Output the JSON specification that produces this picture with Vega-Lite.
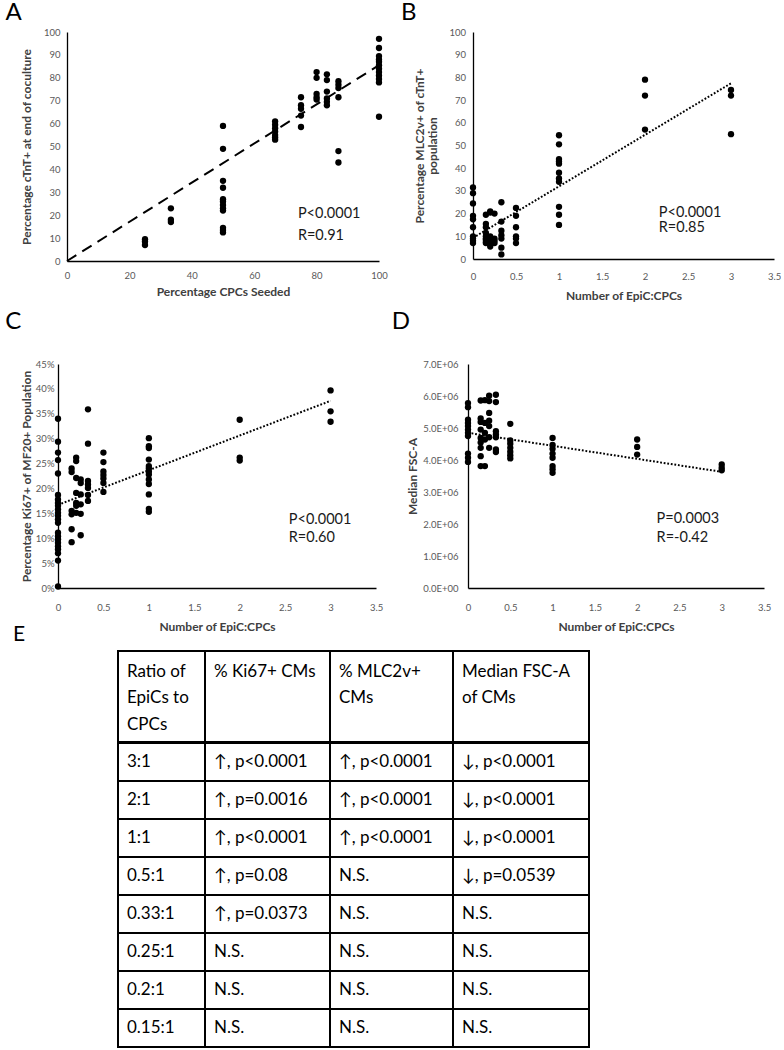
{
"$schema": "https://vega.github.io/schema/vega-lite/v6.json",
"padding": {"left": 0, "top": 1, "right": 0, "bottom": 0},
"config": {
  "font": "Lato",
  "view": {"stroke": null},
  "axis": {"domainColor": "black", "domainWidth": 1.3, "ticks": false, "tickSize": 0, "grid": false, "labelOverlap": false, "labelFlush": false, "labelColor": "#595959", "labelFontSize": 9.5, "labelFont": "Lato", "titleFont": "Lato", "titleFontSize": 12, "titleFontWeight": "bold", "titleColor": "#404040"},
  "title": {"fontSize": 24, "fontWeight": "normal", "anchor": "start", "frame": "bounds", "color": "black", "font": "Lato", "baseline": "alphabetic"}
},
"datasets": {
  "A": [
    {"x":25,"y":9.5},{"x":25,"y":8.5},{"x":25,"y":7},
    {"x":33.3,"y":23},{"x":33.3,"y":18},{"x":33.3,"y":17},
    {"x":50,"y":59},{"x":50,"y":49},{"x":50,"y":35},{"x":50,"y":32},{"x":50,"y":27},{"x":50,"y":26},{"x":50,"y":24.5},{"x":50,"y":23},{"x":50,"y":22},{"x":50,"y":14.5},{"x":50,"y":13.5},{"x":50,"y":12.5},
    {"x":66.7,"y":61},{"x":66.7,"y":59.5},{"x":66.7,"y":58},{"x":66.7,"y":56.5},{"x":66.7,"y":55},{"x":66.7,"y":54},{"x":66.7,"y":53},
    {"x":75,"y":71.5},{"x":75,"y":68},{"x":75,"y":66.5},{"x":75,"y":63.5},{"x":75,"y":58.5},
    {"x":80,"y":82.5},{"x":80,"y":80},{"x":80,"y":73},{"x":80,"y":71.5},{"x":80,"y":70.5},
    {"x":83.3,"y":81.5},{"x":83.3,"y":79},{"x":83.3,"y":74},{"x":83.3,"y":71},{"x":83.3,"y":69.5},{"x":83.3,"y":68},
    {"x":87,"y":78.5},{"x":87,"y":77},{"x":87,"y":75.5},{"x":87,"y":71.5},{"x":87,"y":48},{"x":87,"y":43},
    {"x":100,"y":97},{"x":100,"y":93},{"x":100,"y":89.5},{"x":100,"y":88},{"x":100,"y":87},{"x":100,"y":85.5},{"x":100,"y":84},{"x":100,"y":82.5},{"x":100,"y":81},{"x":100,"y":79.5},{"x":100,"y":78},{"x":100,"y":63}
  ],
  "A_fit": [{"x":0,"y":0},{"x":100,"y":85.5}],
  "A_note": [{"x":74,"y":18.7,"t":"P<0.0001"},{"x":74,"y":9.2,"t":"R=0.91"}],
  "B": [
    {"x":0,"y":31.5},{"x":0,"y":29},{"x":0,"y":24.5},{"x":0,"y":19},{"x":0,"y":17.5},{"x":0,"y":14},{"x":0,"y":10},{"x":0,"y":9},{"x":0,"y":8},{"x":0,"y":7},
    {"x":0.15,"y":19.5},{"x":0.15,"y":15.5},{"x":0.15,"y":14},{"x":0.15,"y":11.5},{"x":0.15,"y":10},{"x":0.15,"y":9},{"x":0.15,"y":8.5},{"x":0.15,"y":7.5},{"x":0.15,"y":7},
    {"x":0.2,"y":21},{"x":0.2,"y":20.5},{"x":0.2,"y":10},{"x":0.2,"y":8.5},{"x":0.2,"y":7.5},{"x":0.2,"y":6.5},{"x":0.2,"y":5.5},
    {"x":0.25,"y":20},{"x":0.25,"y":9},{"x":0.25,"y":8},{"x":0.25,"y":7},
    {"x":0.33,"y":25},{"x":0.33,"y":16.5},{"x":0.33,"y":12.5},{"x":0.33,"y":10.5},{"x":0.33,"y":9},{"x":0.33,"y":5},{"x":0.33,"y":2},
    {"x":0.5,"y":22.5},{"x":0.5,"y":19},{"x":0.5,"y":14},{"x":0.5,"y":10},{"x":0.5,"y":9},{"x":0.5,"y":7},
    {"x":1,"y":54.5},{"x":1,"y":50.5},{"x":1,"y":44},{"x":1,"y":43},{"x":1,"y":42},{"x":1,"y":38},{"x":1,"y":35.5},{"x":1,"y":34},{"x":1,"y":23},{"x":1,"y":19.5},{"x":1,"y":15},
    {"x":2,"y":79},{"x":2,"y":72},{"x":2,"y":57},
    {"x":3,"y":74.5},{"x":3,"y":72},{"x":3,"y":55}
  ],
  "B_fit": [{"x":0,"y":9.3},{"x":3,"y":77.4}],
  "B_note": [{"x":2.16,"y":18.6,"t":"P<0.0001"},{"x":2.16,"y":12,"t":"R=0.85"}],
  "C": [
    {"x":0,"y":0.34},{"x":0,"y":0.294},{"x":0,"y":0.272},{"x":0,"y":0.257},{"x":0,"y":0.23},{"x":0,"y":0.187},{"x":0,"y":0.178},{"x":0,"y":0.171},{"x":0,"y":0.165},{"x":0,"y":0.158},{"x":0,"y":0.151},{"x":0,"y":0.145},{"x":0,"y":0.138},{"x":0,"y":0.131},{"x":0,"y":0.111},{"x":0,"y":0.104},{"x":0,"y":0.098},{"x":0,"y":0.091},{"x":0,"y":0.084},{"x":0,"y":0.078},{"x":0,"y":0.07},{"x":0,"y":0.055},{"x":0,"y":0.003},
    {"x":0.15,"y":0.24},{"x":0.15,"y":0.233},{"x":0.15,"y":0.155},{"x":0.15,"y":0.148},{"x":0.15,"y":0.118},{"x":0.15,"y":0.092},
    {"x":0.2,"y":0.262},{"x":0.2,"y":0.255},{"x":0.2,"y":0.221},{"x":0.2,"y":0.191},{"x":0.2,"y":0.171},{"x":0.2,"y":0.165},{"x":0.2,"y":0.151},
    {"x":0.25,"y":0.218},{"x":0.25,"y":0.211},{"x":0.25,"y":0.188},{"x":0.25,"y":0.168},{"x":0.25,"y":0.149},{"x":0.25,"y":0.106},
    {"x":0.33,"y":0.359},{"x":0.33,"y":0.29},{"x":0.33,"y":0.215},{"x":0.33,"y":0.208},{"x":0.33,"y":0.201},{"x":0.33,"y":0.187},{"x":0.33,"y":0.175},
    {"x":0.5,"y":0.272},{"x":0.5,"y":0.253},{"x":0.5,"y":0.234},{"x":0.5,"y":0.227},{"x":0.5,"y":0.22},{"x":0.5,"y":0.211},{"x":0.5,"y":0.193},
    {"x":1,"y":0.301},{"x":1,"y":0.285},{"x":1,"y":0.281},{"x":1,"y":0.258},{"x":1,"y":0.245},{"x":1,"y":0.24},{"x":1,"y":0.234},{"x":1,"y":0.228},{"x":1,"y":0.218},{"x":1,"y":0.209},{"x":1,"y":0.188},{"x":1,"y":0.159},{"x":1,"y":0.153},
    {"x":2,"y":0.338},{"x":2,"y":0.262},{"x":2,"y":0.256},
    {"x":3,"y":0.397},{"x":3,"y":0.355},{"x":3,"y":0.334}
  ],
  "C_fit": [{"x":0,"y":0.167},{"x":3,"y":0.376}],
  "C_note": [{"x":2.54,"y":0.129,"t":"P<0.0001"},{"x":2.54,"y":0.093,"t":"R=0.60"}],
  "D": [
    {"x":0,"y":5780000},{"x":0,"y":5650000},{"x":0,"y":5260000},{"x":0,"y":5160000},{"x":0,"y":5060000},{"x":0,"y":4950000},{"x":0,"y":4850000},{"x":0,"y":4750000},{"x":0,"y":4200000},{"x":0,"y":4070000},{"x":0,"y":3940000},
    {"x":0.15,"y":5860000},{"x":0.15,"y":5300000},{"x":0.15,"y":5190000},{"x":0.15,"y":4950000},{"x":0.15,"y":4690000},{"x":0.15,"y":4550000},{"x":0.15,"y":4380000},{"x":0.15,"y":4120000},{"x":0.15,"y":3810000},
    {"x":0.2,"y":5870000},{"x":0.2,"y":5160000},{"x":0.2,"y":4850000},{"x":0.2,"y":4640000},{"x":0.2,"y":3810000},
    {"x":0.25,"y":6010000},{"x":0.25,"y":5840000},{"x":0.25,"y":5470000},{"x":0.25,"y":5230000},{"x":0.25,"y":5060000},{"x":0.25,"y":4710000},{"x":0.25,"y":4380000},
    {"x":0.33,"y":6040000},{"x":0.33,"y":5810000},{"x":0.33,"y":4900000},{"x":0.33,"y":4800000},{"x":0.33,"y":4710000},{"x":0.33,"y":4330000},{"x":0.33,"y":4250000},
    {"x":0.5,"y":5130000},{"x":0.5,"y":4610000},{"x":0.5,"y":4510000},{"x":0.5,"y":4380000},{"x":0.5,"y":4260000},{"x":0.5,"y":4150000},{"x":0.5,"y":4050000},
    {"x":1,"y":4690000},{"x":1,"y":4470000},{"x":1,"y":4350000},{"x":1,"y":4200000},{"x":1,"y":4070000},{"x":1,"y":3810000},{"x":1,"y":3710000},{"x":1,"y":3600000},
    {"x":2,"y":4640000},{"x":2,"y":4410000},{"x":2,"y":4170000},
    {"x":3,"y":3860000},{"x":3,"y":3760000},{"x":3,"y":3680000}
  ],
  "D_fit": [{"x":0,"y":4850000},{"x":3,"y":3630000}],
  "D_note": [{"x":2.23,"y":2040000,"t":"P=0.0003"},{"x":2.23,"y":1450000,"t":"R=-0.42"}],
  "hdr": [{"c1":"Ratio of\nEpiCs to\nCPCs","c2":"% Ki67+ CMs","c3":"% MLC2v+\nCMs","c4":"Median FSC-A\nof CMs"}],
  "tbl": [
    {"r":1,"c1":"3:1","c2":"↑, p<0.0001","c3":"↑, p<0.0001","c4":"↓, p<0.0001"},
    {"r":2,"c1":"2:1","c2":"↑, p=0.0016","c3":"↑, p<0.0001","c4":"↓, p<0.0001"},
    {"r":3,"c1":"1:1","c2":"↑, p<0.0001","c3":"↑, p<0.0001","c4":"↓, p<0.0001"},
    {"r":4,"c1":"0.5:1","c2":"↑, p=0.08","c3":"N.S.","c4":"↓, p=0.0539"},
    {"r":5,"c1":"0.33:1","c2":"↑, p=0.0373","c3":"N.S.","c4":"N.S."},
    {"r":6,"c1":"0.25:1","c2":"N.S.","c3":"N.S.","c4":"N.S."},
    {"r":7,"c1":"0.2:1","c2":"N.S.","c3":"N.S.","c4":"N.S."},
    {"r":8,"c1":"0.15:1","c2":"N.S.","c3":"N.S.","c4":"N.S."}
  ]
},
"spacing": -9,
"vconcat": [
  {
    "spacing": 9,
    "vconcat": [
      {
        "spacing": 0,
        "hconcat": [
          {"width": 5, "height": 1, "data": {"values": []}, "mark": {"type": "rect", "opacity": 0}},
          {
            "spacing": 12,
            "hconcat": [
              {
                "width": 312, "height": 229,
                "title": {"text": "A", "dx": -15, "offset": 2},
                "encoding": {
                  "x": {"field": "x", "type": "quantitative", "scale": {"domain": [0, 100], "nice": false}, "axis": {"title": "Percentage CPCs Seeded", "values": [0, 20, 40, 60, 80, 100], "format": "d", "labelPadding": 9, "titlePadding": 7}},
                  "y": {"field": "y", "type": "quantitative", "scale": {"domain": [0, 100], "nice": false}, "axis": {"title": "Percentage cTnT+ at end of coculture", "values": [0, 10, 20, 30, 40, 50, 60, 70, 80, 90, 100], "format": "d", "labelPadding": 7, "titlePadding": 10}}
                },
                "layer": [
                  {"data": {"name": "A_fit"}, "mark": {"type": "line", "color": "black", "strokeWidth": 2, "strokeDash": [11, 7]}},
                  {"data": {"name": "A"}, "mark": {"type": "point", "shape": "circle", "filled": true, "color": "black", "opacity": 1, "size": 40}},
                  {"data": {"name": "A_note"}, "mark": {"type": "text", "align": "left", "baseline": "alphabetic", "fontSize": 14.5, "color": "#1a1a1a"}, "encoding": {"text": {"field": "t"}}}
                ]
              },
              {
                "width": 301, "height": 227,
                "title": {"text": "B", "dx": -13, "offset": 2},
                "encoding": {
                  "x": {"field": "x", "type": "quantitative", "scale": {"domain": [0, 3.5], "nice": false}, "axis": {"title": "Number of EpiC:CPCs", "values": [0, 0.5, 1, 1.5, 2, 2.5, 3, 3.5], "format": "~g", "labelPadding": 12.5, "titlePadding": 9}},
                  "y": {"field": "y", "type": "quantitative", "scale": {"domain": [0, 100], "nice": false}, "axis": {"title": ["Percentage MLC2v+ of cTnT+", "population"], "titleLineHeight": 13, "values": [0, 10, 20, 30, 40, 50, 60, 70, 80, 90, 100], "format": "d", "labelPadding": 7.5, "titlePadding": 9}}
                },
                "layer": [
                  {"data": {"name": "B_fit"}, "mark": {"type": "line", "color": "black", "strokeWidth": 2, "strokeDash": [1.8, 1.8]}},
                  {"data": {"name": "B"}, "mark": {"type": "point", "shape": "circle", "filled": true, "color": "black", "opacity": 1, "size": 40}},
                  {"data": {"name": "B_note"}, "mark": {"type": "text", "align": "left", "baseline": "alphabetic", "fontSize": 14.5, "color": "#1a1a1a"}, "encoding": {"text": {"field": "t"}}}
                ]
              }
            ]
          }
        ]
      },
      {
        "spacing": 0,
        "hconcat": [
          {"width": 5, "height": 1, "data": {"values": []}, "mark": {"type": "rect", "opacity": 0}},
          {
            "spacing": 8,
            "hconcat": [
              {
                "width": 318, "height": 224,
                "title": {"text": "C", "dx": -15, "offset": 25},
                "encoding": {
                  "x": {"field": "x", "type": "quantitative", "scale": {"domain": [0, 3.5], "nice": false}, "axis": {"title": "Number of EpiC:CPCs", "values": [0, 0.5, 1, 1.5, 2, 2.5, 3, 3.5], "format": "~g", "labelPadding": 14, "titlePadding": 10}},
                  "y": {"field": "y", "type": "quantitative", "scale": {"domain": [0, 0.45], "nice": false}, "axis": {"title": "Percentage Ki67+ of MF20+ Population", "values": [0, 0.05, 0.1, 0.15, 0.2, 0.25, 0.3, 0.35, 0.4, 0.45], "format": ".0%", "labelPadding": 4, "titlePadding": 2}}
                },
                "layer": [
                  {"data": {"name": "C_fit"}, "mark": {"type": "line", "color": "black", "strokeWidth": 2, "strokeDash": [1.8, 1.8]}},
                  {"data": {"name": "C"}, "mark": {"type": "point", "shape": "circle", "filled": true, "color": "black", "opacity": 1, "size": 40}},
                  {"data": {"name": "C_note"}, "mark": {"type": "text", "align": "left", "baseline": "alphabetic", "fontSize": 14.5, "color": "#1a1a1a"}, "encoding": {"text": {"field": "t"}}}
                ]
              },
              {
                "width": 296, "height": 224,
                "title": {"text": "D", "dx": -15, "offset": 25},
                "encoding": {
                  "x": {"field": "x", "type": "quantitative", "scale": {"domain": [0, 3.5], "nice": false}, "axis": {"title": "Number of EpiC:CPCs", "values": [0, 0.5, 1, 1.5, 2, 2.5, 3, 3.5], "format": "~g", "labelPadding": 14, "titlePadding": 10}},
                  "y": {"field": "y", "type": "quantitative", "scale": {"domain": [0, 7000000], "nice": false}, "axis": {"title": "Median FSC-A", "values": [0, 1000000, 2000000, 3000000, 4000000, 5000000, 6000000, 7000000], "labelExpr": "upper(replace(format(datum.value, '.1e'), '+', '+0'))", "labelPadding": 10, "titlePadding": 3}}
                },
                "layer": [
                  {"data": {"name": "D_fit"}, "mark": {"type": "line", "color": "black", "strokeWidth": 2, "strokeDash": [1.8, 1.8]}},
                  {"data": {"name": "D"}, "mark": {"type": "point", "shape": "circle", "filled": true, "color": "black", "opacity": 1, "size": 40}},
                  {"data": {"name": "D_note"}, "mark": {"type": "text", "align": "left", "baseline": "alphabetic", "fontSize": 14.5, "color": "#1a1a1a"}, "encoding": {"text": {"field": "t"}}}
                ]
              }
            ]
          }
        ]
      }
    ]
  },
  {
    "spacing": 0,
    "hconcat": [
      {"width": 13, "height": 1, "data": {"values": []}, "mark": {"type": "rect", "opacity": 0}},
      {
        "title": {"text": "E", "dx": -103, "offset": 5, "fontSize": 21},
        "spacing": -2,
        "vconcat": [
          {
            "spacing": 0, "bounds": "flush",
            "hconcat": [
              {"width": 87, "height": 91, "view": {"stroke": "black", "strokeWidth": 2}, "data": {"name": "hdr"},
               "mark": {"type": "text", "align": "left", "baseline": "alphabetic", "dx": 9, "dy": 25.7, "fontSize": 17, "lineBreak": "\n", "lineHeight": 26.7, "color": "black"},
               "encoding": {"x": {"datum": 0, "type": "quantitative", "scale": {"domain": [0, 1]}, "axis": null}, "y": {"datum": 1, "type": "quantitative", "scale": {"domain": [0, 1]}, "axis": null}, "text": {"field": "c1"}}},
              {"width": 125, "height": 91, "view": {"stroke": "black", "strokeWidth": 2}, "data": {"name": "hdr"},
               "mark": {"type": "text", "align": "left", "baseline": "alphabetic", "dx": 9, "dy": 25.7, "fontSize": 17, "lineBreak": "\n", "lineHeight": 26.7, "color": "black"},
               "encoding": {"x": {"datum": 0, "type": "quantitative", "scale": {"domain": [0, 1]}, "axis": null}, "y": {"datum": 1, "type": "quantitative", "scale": {"domain": [0, 1]}, "axis": null}, "text": {"field": "c2"}}},
              {"width": 123, "height": 91, "view": {"stroke": "black", "strokeWidth": 2}, "data": {"name": "hdr"},
               "mark": {"type": "text", "align": "left", "baseline": "alphabetic", "dx": 9, "dy": 25.7, "fontSize": 17, "lineBreak": "\n", "lineHeight": 26.7, "color": "black"},
               "encoding": {"x": {"datum": 0, "type": "quantitative", "scale": {"domain": [0, 1]}, "axis": null}, "y": {"datum": 1, "type": "quantitative", "scale": {"domain": [0, 1]}, "axis": null}, "text": {"field": "c3"}}},
              {"width": 136, "height": 91, "view": {"stroke": "black", "strokeWidth": 2}, "data": {"name": "hdr"},
               "mark": {"type": "text", "align": "left", "baseline": "alphabetic", "dx": 9, "dy": 25.7, "fontSize": 17, "lineBreak": "\n", "lineHeight": 26.7, "color": "black"},
               "encoding": {"x": {"datum": 0, "type": "quantitative", "scale": {"domain": [0, 1]}, "axis": null}, "y": {"datum": 1, "type": "quantitative", "scale": {"domain": [0, 1]}, "axis": null}, "text": {"field": "c4"}}}
            ]
          },
          {
            "spacing": 0, "bounds": "flush",
            "hconcat": [
              {"width": 87, "height": 304, "view": {"stroke": "black", "strokeWidth": 2}, "data": {"name": "tbl"},
               "layer": [
                 {"transform": [{"filter": "datum.r > 1"}], "mark": {"type": "rule", "color": "black", "strokeWidth": 2},
                  "encoding": {"y": {"field": "r", "type": "ordinal", "bandPosition": 0, "axis": null, "scale": {"paddingInner": 0, "paddingOuter": 0}}}},
                 {"mark": {"type": "text", "align": "left", "baseline": "middle", "dx": 9, "fontSize": 17, "color": "black"},
                  "encoding": {"x": {"datum": 0, "type": "quantitative", "scale": {"domain": [0, 1]}, "axis": null}, "y": {"field": "r", "type": "ordinal", "axis": null, "scale": {"paddingInner": 0, "paddingOuter": 0}}, "text": {"field": "c1"}}}
               ]},
              {"width": 125, "height": 304, "view": {"stroke": "black", "strokeWidth": 2}, "data": {"name": "tbl"},
               "layer": [
                 {"transform": [{"filter": "datum.r > 1"}], "mark": {"type": "rule", "color": "black", "strokeWidth": 2},
                  "encoding": {"y": {"field": "r", "type": "ordinal", "bandPosition": 0, "axis": null, "scale": {"paddingInner": 0, "paddingOuter": 0}}}},
                 {"mark": {"type": "text", "align": "left", "baseline": "middle", "dx": 9, "fontSize": 17, "color": "black"},
                  "encoding": {"x": {"datum": 0, "type": "quantitative", "scale": {"domain": [0, 1]}, "axis": null}, "y": {"field": "r", "type": "ordinal", "axis": null, "scale": {"paddingInner": 0, "paddingOuter": 0}}, "text": {"field": "c2"}}}
               ]},
              {"width": 123, "height": 304, "view": {"stroke": "black", "strokeWidth": 2}, "data": {"name": "tbl"},
               "layer": [
                 {"transform": [{"filter": "datum.r > 1"}], "mark": {"type": "rule", "color": "black", "strokeWidth": 2},
                  "encoding": {"y": {"field": "r", "type": "ordinal", "bandPosition": 0, "axis": null, "scale": {"paddingInner": 0, "paddingOuter": 0}}}},
                 {"mark": {"type": "text", "align": "left", "baseline": "middle", "dx": 9, "fontSize": 17, "color": "black"},
                  "encoding": {"x": {"datum": 0, "type": "quantitative", "scale": {"domain": [0, 1]}, "axis": null}, "y": {"field": "r", "type": "ordinal", "axis": null, "scale": {"paddingInner": 0, "paddingOuter": 0}}, "text": {"field": "c3"}}}
               ]},
              {"width": 136, "height": 304, "view": {"stroke": "black", "strokeWidth": 2}, "data": {"name": "tbl"},
               "layer": [
                 {"transform": [{"filter": "datum.r > 1"}], "mark": {"type": "rule", "color": "black", "strokeWidth": 2},
                  "encoding": {"y": {"field": "r", "type": "ordinal", "bandPosition": 0, "axis": null, "scale": {"paddingInner": 0, "paddingOuter": 0}}}},
                 {"mark": {"type": "text", "align": "left", "baseline": "middle", "dx": 9, "fontSize": 17, "color": "black"},
                  "encoding": {"x": {"datum": 0, "type": "quantitative", "scale": {"domain": [0, 1]}, "axis": null}, "y": {"field": "r", "type": "ordinal", "axis": null, "scale": {"paddingInner": 0, "paddingOuter": 0}}, "text": {"field": "c4"}}}
               ]}
            ]
          }
        ]
      }
    ]
  }
]
}
